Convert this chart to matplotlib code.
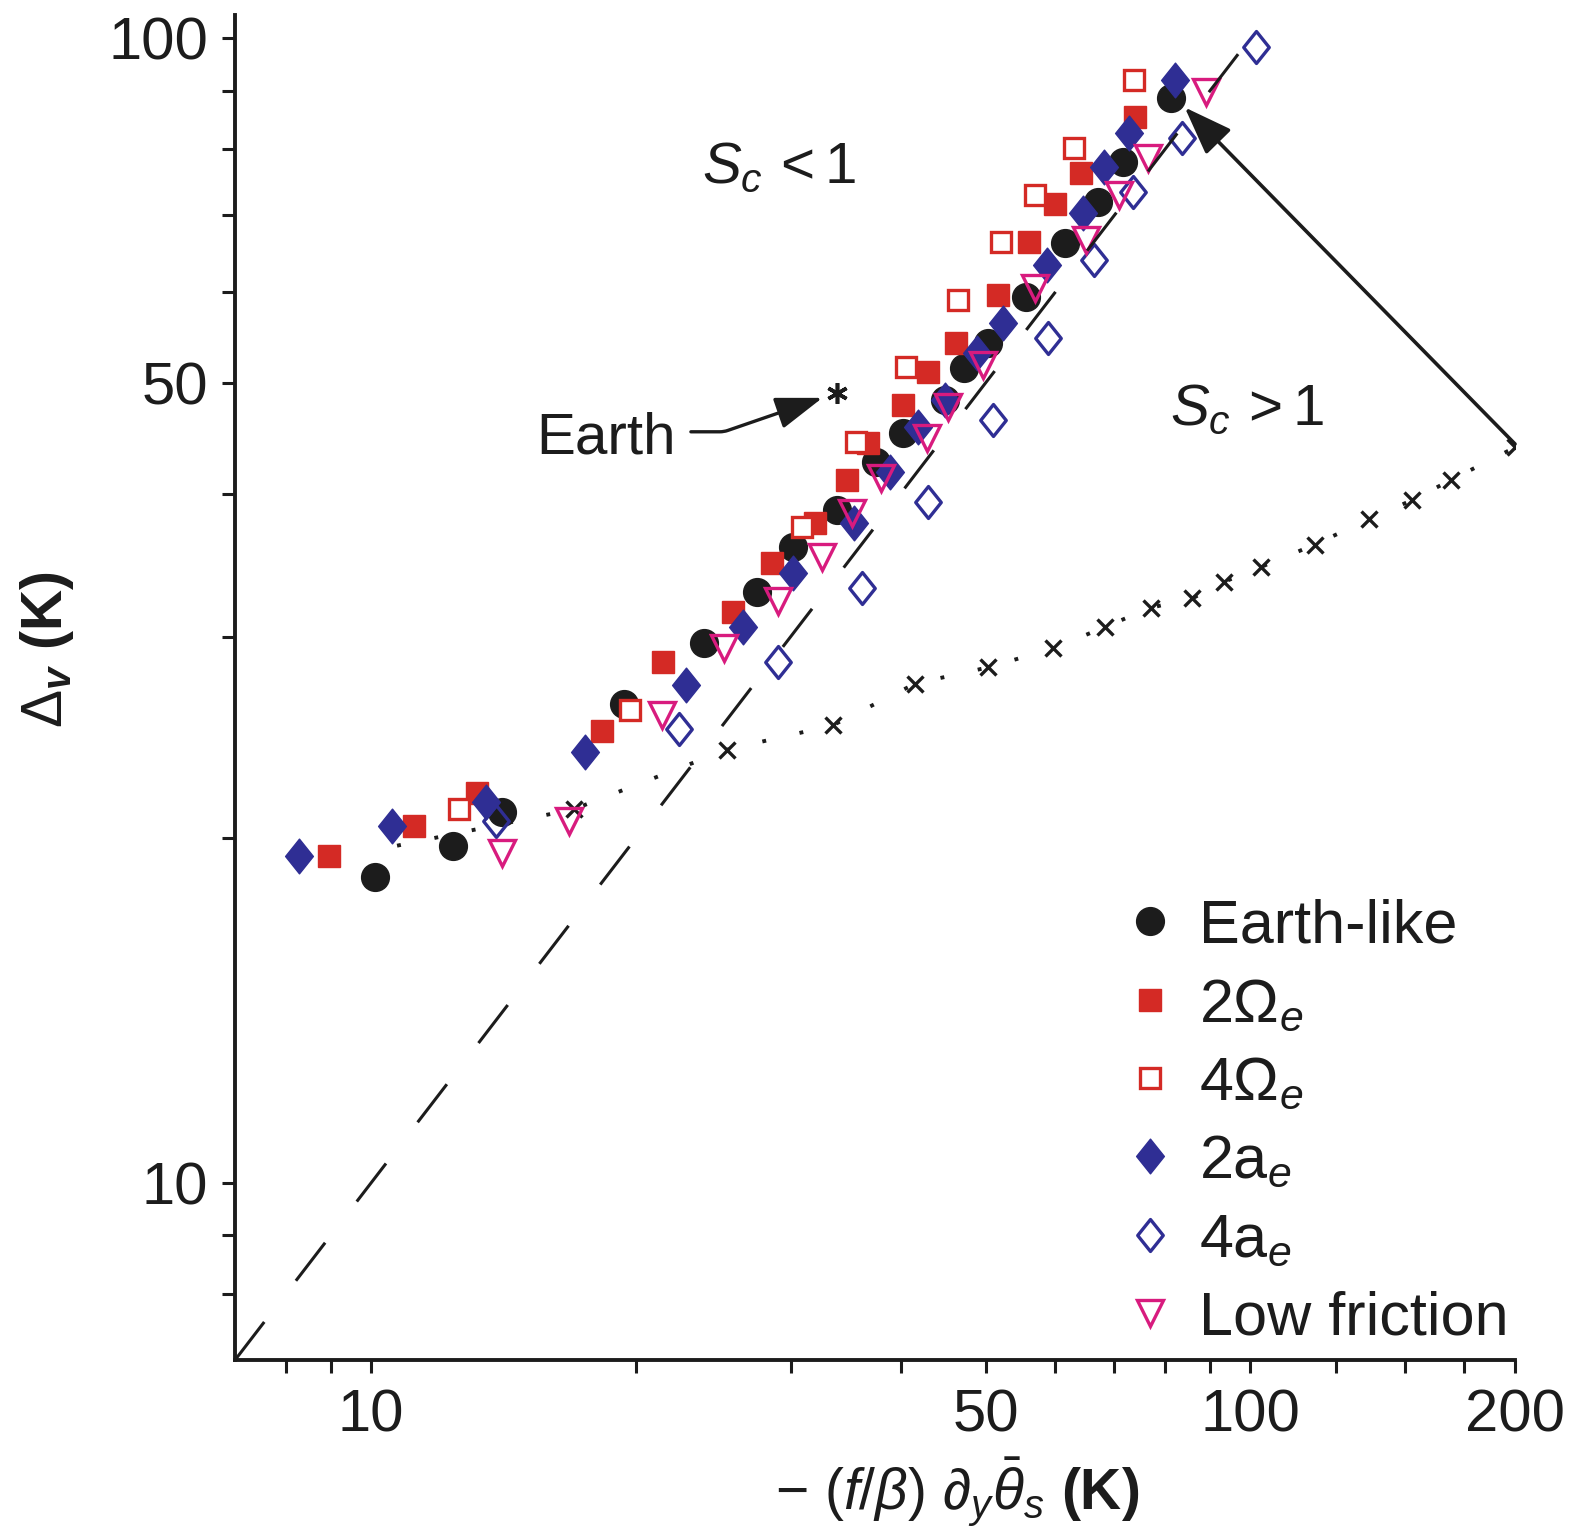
import matplotlib
matplotlib.use("Agg")
import matplotlib.pyplot as plt
from matplotlib.ticker import FixedLocator, FuncFormatter, NullFormatter
from matplotlib.path import Path

plt.rcParams['font.family'] = ['Liberation Sans', 'DejaVu Sans']
plt.rcParams['mathtext.fontset'] = 'custom'
plt.rcParams['mathtext.rm'] = 'Liberation Sans'
plt.rcParams['mathtext.it'] = 'Liberation Sans:italic'
plt.rcParams['mathtext.bf'] = 'Liberation Sans:bold'
plt.rcParams['mathtext.bfit'] = 'Liberation Sans:bold:italic'

# ---------------- data ----------------
earth_x = [10.1, 12.4, 14.1, 19.4, 23.9, 27.5, 30.2, 33.9, 37.5, 40.3, 44.9, 47.2, 50.3, 55.5, 61.5, 67.1, 71.7, 81.3]
earth_y = [18.5, 19.7, 21.1, 26.2, 29.6, 32.8, 35.9, 38.7, 42.6, 45.2, 48.3, 51.5, 54.2, 59.4, 66.2, 71.9, 77.9, 88.6]

omega2_x = [8.96, 11.2, 13.2, 18.3, 21.5, 25.8, 28.6, 32.0, 34.8, 36.7, 40.3, 43.0, 46.3, 51.7, 56.0, 59.9, 64.2, 74.0]
omega2_y = [19.3, 20.5, 21.9, 24.8, 28.5, 31.5, 34.8, 37.7, 41.1, 44.3, 47.8, 51.1, 54.2, 59.7, 66.3, 71.7, 76.2, 85.3]

omega4_x = [12.6, 19.7, 30.9, 35.6, 40.6, 46.5, 52.0, 56.9, 63.0, 73.7]
omega4_y = [21.2, 25.9, 37.4, 44.4, 51.6, 59.0, 66.3, 72.9, 80.2, 91.9]

a2_x = [8.28, 10.56, 13.5, 17.5, 22.8, 26.5, 30.2, 35.4, 38.9, 41.9, 44.9, 48.9, 52.3, 58.7, 64.5, 68.2, 72.7, 82.0]
a2_y = [19.3, 20.5, 21.5, 23.8, 27.2, 30.6, 34.1, 37.7, 41.8, 45.7, 48.3, 53.1, 56.4, 63.3, 70.3, 77.2, 82.6, 91.9]

a4_x = [13.85, 22.4, 29.0, 36.2, 43.0, 51.0, 58.9, 66.4, 73.5, 83.5, 101.6]
a4_y = [20.7, 24.9, 28.5, 33.1, 39.3, 46.4, 54.7, 64.0, 73.4, 81.8, 98.2]

lowf_x = [14.1, 16.8, 21.4, 25.2, 29.0, 32.6, 35.2, 38.0, 42.9, 45.3, 49.6, 56.9, 65.1, 70.9, 76.4, 89.0]
lowf_y = [19.4, 20.7, 25.6, 29.3, 32.2, 35.2, 38.5, 41.3, 44.7, 47.6, 51.8, 60.5, 66.6, 72.9, 78.6, 89.7]

sc_x = [10.7, 17.0, 25.4, 33.5, 41.6, 50.3, 59.7, 68.4, 77.1, 85.9, 93.4, 102.7, 118.3, 136.6, 152.9, 169.0, 200.0]
sc_y = [19.7, 21.2, 23.9, 25.1, 27.3, 28.2, 29.3, 30.6, 31.8, 32.4, 33.5, 34.5, 36.1, 38.0, 39.5, 41.1, 43.9]

oneone = [7.0, 100.0]
earth_pt = (33.9, 49.0)

x_major = [10, 50, 100, 200]
x_minor = [8, 9, 20, 30, 40, 60, 70, 80, 90, 125, 150, 175]
y_major = [10, 50, 100]
y_minor = [8, 9, 20, 30, 40, 60, 70, 80, 90]

labels = ['Earth-like', r'$2\Omega_e$', r'$4\Omega_e$', r'$2\mathrm{a}_e$', r'$4\mathrm{a}_e$', 'Low friction']

# ---------------- style ----------------
BLACK = '#1c1c1c'
RED = '#d42a25'
BLUE = '#2f2e94'
MAG = '#d81b7e'

diamond = Path([(0, 1), (0.8, 0), (0, -1), (-0.8, 0), (0, 1)],
               [Path.MOVETO, Path.LINETO, Path.LINETO, Path.LINETO, Path.CLOSEPOLY])

fig = plt.figure(figsize=(15.69, 15.35), dpi=100)
ax = fig.add_axes([0.1498, 0.114, 0.8158, 0.876])
ax.set_xscale('log')
ax.set_yscale('log')

# 1:1 dashed line
ax.plot(oneone, oneone, color=BLACK, lw=2.2, dashes=(15.7, 17), zorder=5)

# S_c = 1 dotted line with x markers
ax.plot(sc_x, sc_y, color=BLACK, lw=2.8, dashes=(1, 8.8), zorder=2)
ax.plot(sc_x[1:], sc_y[1:], linestyle='none', marker='x', ms=12, mew=2.4,
        color=BLACK, zorder=2)

ax.plot(earth_x, earth_y, 'o', ms=20, color=BLACK, mec=BLACK, label=labels[0], zorder=3)
ax.plot(omega2_x, omega2_y, 's', ms=16.5, color=RED, mec=RED, mew=1, label=labels[1], zorder=3)
ax.plot(omega4_x, omega4_y, 's', ms=15, mfc='white', mec=RED, mew=2.4, label=labels[2], zorder=3)
ax.plot(a2_x, a2_y, linestyle='none', marker=diamond, ms=25, color=BLUE, mec=BLUE, mew=1,
        label=labels[3], zorder=3)
ax.plot(a4_x, a4_y, linestyle='none', marker=diamond, ms=23, mfc='none', mec=BLUE, mew=2.4,
        label=labels[4], zorder=3)
ax.plot(lowf_x, lowf_y, 'v', ms=19, mfc='none', mec=MAG, mew=2.4, label=labels[5], zorder=3)

# Earth asterisk + annotation
ax.plot([earth_pt[0]], [earth_pt[1]], linestyle='none', marker=(6, 2, 0), ms=15, mew=2.6,
        color=BLACK, zorder=4)
ax.text(22.2, 43.4, 'Earth', fontsize=42, ha='right', va='baseline', color=BLACK)
ax.annotate('', xy=(32.6, 48.5), xytext=(23.1, 45.3),
            arrowprops=dict(arrowstyle='-|>,head_length=1.45,head_width=0.5', lw=2.4,
                            color=BLACK, mutation_scale=20, shrinkA=0, shrinkB=0,
                            connectionstyle='angle,angleA=0,angleB=19,rad=4'))

# big arrow to top Earth-like point
ax.annotate('', xy=(84.2, 87.0), xytext=(200, 44.2), annotation_clip=False,
            arrowprops=dict(arrowstyle='-|>,head_length=1.5,head_width=0.55', lw=2.6,
                            color=BLACK, mutation_scale=20, shrinkA=0, shrinkB=0), zorder=6)

ax.text(29.1, 74.7, r'$S_c\,<1$', fontsize=42, ha='center', va='baseline', color=BLACK)
ax.text(99.2, 45.9, r'$S_c\,>1$', fontsize=42, ha='center', va='baseline', color=BLACK)

ax.set_xlim(7.0, 200)
ax.set_ylim(7.0, 104.7)

ax.xaxis.set_major_locator(FixedLocator(x_major))
ax.xaxis.set_minor_locator(FixedLocator(x_minor))
ax.yaxis.set_major_locator(FixedLocator(y_major))
ax.yaxis.set_minor_locator(FixedLocator(y_minor))
fmt = FuncFormatter(lambda v, p: f'{v:g}')
ax.xaxis.set_major_formatter(fmt)
ax.yaxis.set_major_formatter(fmt)
ax.xaxis.set_minor_formatter(NullFormatter())
ax.yaxis.set_minor_formatter(NullFormatter())
ax.tick_params(which='both', direction='out', length=9.5, width=2.2, color=BLACK,
               labelsize=43, labelcolor=BLACK)
ax.tick_params(axis='x', which='both', pad=11)
ax.tick_params(axis='y', which='both', pad=10)

for s in ['top', 'right']:
    ax.spines[s].set_visible(False)
for s in ['left', 'bottom']:
    ax.spines[s].set_linewidth(2.8)
    ax.spines[s].set_color(BLACK)

leg = ax.legend(loc='lower right', bbox_to_anchor=(0.997, 0.007), frameon=False, fontsize=44,
                numpoints=1, handlelength=0.8, handletextpad=0.4, labelspacing=0.35,
                borderaxespad=0.05, borderpad=0.0)
for t in leg.get_texts():
    t.set_color(BLACK)

fig.text(0.610, 0.016,
         r'$-\ \mathit{(f/}\beta\mathit{)}\ \partial_y\bar{\theta}_s\ \mathbf{(K)}$',
         fontsize=41, ha='center', va='baseline', color=BLACK)
fig.text(0.030, 0.5765, r'$\mathrm{\Delta}_{\mathbfit{v}}\ \mathbf{(K)}$', fontsize=41,
         ha='center', va='center', rotation=90, color=BLACK)

fig.savefig('out.png', dpi=100, facecolor='white')
